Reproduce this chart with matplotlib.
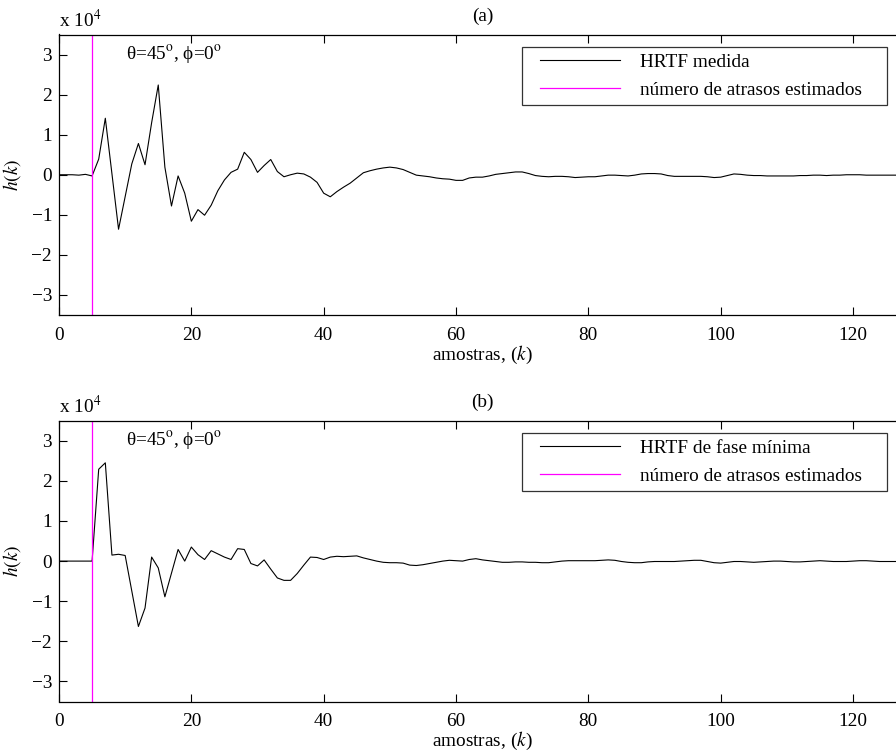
import numpy as np
import matplotlib
matplotlib.use("Agg")
import matplotlib.pyplot as plt
from matplotlib.legend_handler import HandlerLine2D
from matplotlib.lines import Line2D

plt.rcParams['font.family'] = ['Liberation Serif', 'DejaVu Serif']
plt.rcParams['mathtext.fontset'] = 'stix'
FS = 13.9
plt.rcParams['font.size'] = FS

# values in units of 10^4
h_medida = [0.00, 0.00, 0.00, -0.01, 0.01, -0.03, 0.39, 1.41, 0.02, -1.36,
            -0.55, 0.27, 0.78, 0.25, 1.30, 2.24, 0.19, -0.78, -0.03, -0.46,
            -1.16, -0.87, -1.01, -0.76, -0.40, -0.13, 0.06, 0.14, 0.56, 0.38,
            0.06, 0.23, 0.38, 0.08, -0.05, 0.00, 0.04, 0.02, -0.06, -0.19,
            -0.46, -0.55, -0.42, -0.31, -0.21, -0.08, 0.05, 0.10, 0.14, 0.17,
            0.19, 0.17, 0.13, 0.06, -0.01, -0.03, -0.05, -0.08, -0.10, -0.11,
            -0.14, -0.14, -0.08, -0.06, -0.06, -0.03, 0.01, 0.03, 0.05, 0.07,
            0.07, 0.03, -0.02, -0.04, -0.05, -0.04, -0.04, -0.05, -0.07, -0.06,
            -0.05, -0.05, -0.03, -0.01, -0.01, -0.02, -0.03, -0.01, 0.02, 0.03,
            0.03, 0.02, -0.02, -0.04, -0.04, -0.04, -0.04, -0.04, -0.05, -0.07,
            -0.06, -0.02, 0.02, 0.01, -0.01, -0.02, -0.02, -0.03, -0.03, -0.03,
            -0.03, -0.03, -0.02, -0.02, -0.01, -0.01, -0.02, -0.01, -0.01, 0.00,
            0.00, 0.00, -0.01, -0.01, -0.01, -0.01, -0.01, -0.01]

h_fase_min = [0.00, 0.00, 0.00, 0.00, 0.00, 0.00, 2.29, 2.45, 0.15, 0.17,
              0.14, -0.75, -1.63, -1.17, 0.10, -0.17, -0.89, -0.30, 0.29, 0.00,
              0.35, 0.16, 0.04, 0.26, 0.18, 0.10, 0.04, 0.31, 0.29, -0.06,
              -0.12, 0.03, -0.20, -0.42, -0.48, -0.48, -0.31, -0.10, 0.10, 0.09,
              0.04, 0.10, 0.12, 0.11, 0.12, 0.13, 0.08, 0.04, 0.00, -0.03,
              -0.04, -0.04, -0.05, -0.10, -0.11, -0.09, -0.06, -0.03, 0.00, 0.02,
              0.01, 0.00, 0.04, 0.06, 0.03, 0.01, -0.01, -0.03, -0.03, -0.02,
              -0.02, -0.03, -0.03, -0.04, -0.04, -0.02, 0.00, 0.01, 0.01, 0.01,
              0.01, 0.01, 0.02, 0.03, 0.02, -0.01, -0.03, -0.04, -0.04, -0.02,
              -0.01, -0.01, -0.01, -0.01, 0.00, 0.01, 0.02, 0.02, -0.01, -0.04,
              -0.05, -0.03, -0.01, -0.01, -0.02, -0.03, -0.02, -0.01, 0.00, 0.00,
              -0.01, -0.02, -0.02, -0.01, 0.00, 0.01, 0.00, -0.01, -0.01, -0.01,
              0.00, 0.01, 0.01, 0.00, -0.01, -0.01, -0.01, -0.01]

n_atrasos = 5
k = np.arange(len(h_medida))
xticks = [0, 20, 40, 60, 80, 100, 120]
yticks = [-3, -2, -1, 0, 1, 2, 3]
titles = ['(a)', '(b)']
labels_hrtf = ['HRTF medida', 'HRTF de fase mínima']
label_atraso = 'número de atrasos estimados'
annot = 'θ=45$^{\\rm o}$, ϕ=0$^{\\rm o}$'

W, H = 896, 753
fig = plt.figure(figsize=(W / 100, H / 100), dpi=100)
left = 59 / W
width = 128 * 6.617 / W
axes_pos = [(1 - 315 / H, 280.5 / H), (1 - 701.5 / H, 280.8 / H)]

px = FS * 100 / 72.0  # font size in pixels
handler = HandlerLine2D(xpad=12 / px)

for i, (series, lab) in enumerate(zip([h_medida, h_fase_min], labels_hrtf)):
    b, h = axes_pos[i]
    ax = fig.add_axes([left, b, width, h])
    ax.plot(k, series, color='black', lw=0.8, label=lab)
    ax.axvline(n_atrasos, color='#ff00ff', lw=0.9, label=label_atraso)
    ax.set_xlim(0, 128)
    ax.set_ylim(-3.5, 3.5)
    ax.set_xticks(xticks)
    ax.set_yticks(yticks)
    ax.tick_params(direction='in', length=6, width=0.8, top=True, right=True,
                   labelsize=FS, pad=5)
    ax.tick_params(axis='x', pad=8.5)
    for s in ax.spines.values():
        s.set_linewidth(0.9)
    ax.set_xlabel(r'amostras, ($k$)', fontsize=FS, labelpad=0)
    ax.set_ylabel(r'$h(k)$', fontsize=FS, labelpad=6)
    ax.set_title(titles[i], fontsize=FS, pad=10)
    ax.text(0, 1.012, r'x 10$^{4}$', transform=ax.transAxes,
            ha='left', va='bottom', fontsize=FS)
    ax.text(10.1, 3.0, annot, ha='left', va='center', fontsize=FS)
    leg = ax.legend(loc='upper left',
                    bbox_to_anchor=(0.5466, 0.3, 0.4309, 0.6565),
                    mode='expand', frameon=True, fancybox=False, shadow=False,
                    handlelength=92 / px, handletextpad=20 / px,
                    labelspacing=0.55, borderpad=0.33, borderaxespad=0,
                    fontsize=FS, handler_map={Line2D: handler})
    leg.get_frame().set_edgecolor('black')
    leg.get_frame().set_linewidth(0.9)

fig.savefig('out.png', dpi=100)
